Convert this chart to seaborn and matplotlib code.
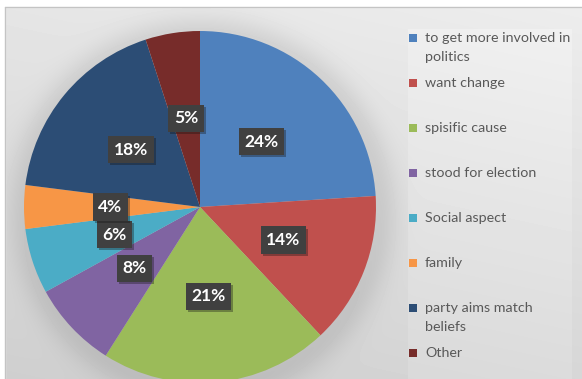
import numpy as np
import matplotlib.pyplot as plt
import matplotlib.patheffects as pe
import seaborn as sns

categories = [
    "to get more involved in\npolitics",
    "want change",
    "spisific cause",
    "stood for election",
    "Social aspect",
    "family",
    "party aims match\nbeliefs",
    "Other",
]
shares = [24, 14, 21, 8, 6, 4, 18, 5]
colors = ["#4F81BD", "#C0504D", "#9BBB59", "#8064A2",
          "#4BACC6", "#F79646", "#2C4D75", "#772C2A"]

sns.set_theme(style="white")
plt.rcParams['font.family'] = ['Lato', 'DejaVu Sans']
palette = sns.color_palette(colors)

W, H = 582, 379
fig = plt.figure(figsize=(W / 100, H / 100), dpi=100)

# background: soft gray gradient with a halo round the pie
bg = fig.add_axes([0, 0, 1, 1])
yy, xx = np.mgrid[0:H, 0:W]
shade = 0.93 - 0.09 * (yy / H) - 0.03 * (1 - xx / W)
dist = np.hypot(xx - 202, yy - 210)
shade -= np.where(dist > 172, np.exp(-((dist - 176) / 20) ** 2), 1.0) * 0.08
shade += np.where((xx > 407) & (xx < 572) & (yy > 28), 0.02, 0)
bg.imshow(np.clip(shade, 0, 1), cmap='gray', vmin=0, vmax=1,
          extent=(0, W, H, 0), aspect='auto', interpolation='bilinear')
bg.add_patch(plt.Rectangle((0, 0), W, 7, color='white', zorder=2))
bg.add_patch(plt.Rectangle((0, 0), 5, H, color='white', zorder=2))
bg.plot([5, W], [7, 7], color='#c4c4c4', lw=1, zorder=3)
bg.plot([5, 5], [7, H], color='#c4c4c4', lw=1, zorder=3)
bg.set_xlim(0, W)
bg.set_ylim(H, 0)
bg.axis('off')

# legend, Excel style: fixed slots, extra lines hang below
for i, (lab, col) in enumerate(zip(categories, palette)):
    y = 38 + 45 * i
    bg.scatter(413, y, marker='s', s=30, color=col, linewidths=0, zorder=4)
    for j, line in enumerate(lab.split('\n')):
        bg.text(425, y + 19 * j, line, va='center', ha='left',
                fontsize=10.3, color='#595959', zorder=4)

# pie
ax = fig.add_axes([24 / W, (H - 207 - 176) / H, 352 / W, 352 / H])
wedges, _, autotexts = ax.pie(
    shares, colors=palette, startangle=90, counterclock=False,
    autopct='%1.0f%%', pctdistance=0.51, radius=1,
    wedgeprops=dict(linewidth=0),
    textprops=dict(color='white', fontsize=12.5, fontweight='bold'))
for t in autotexts:
    t.set_bbox(dict(boxstyle='square,pad=0.32', fc='#404040', ec='none'))
    t.get_bbox_patch().set_path_effects(
        [pe.SimplePatchShadow(offset=(1.5, -1.5), alpha=0.35), pe.Normal()])
ax.set_xlim(-1, 1)
ax.set_ylim(-1, 1)
ax.axis('off')

fig.savefig('out.png', dpi=100)
